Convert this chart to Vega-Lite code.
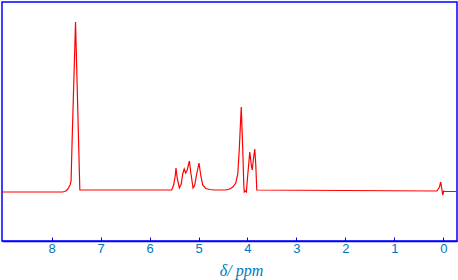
{
  "$schema": "https://vega.github.io/schema/vega-lite/v6.json",
  "autosize": {"type": "none"},
  "width": 455,
  "height": 239,
  "padding": {"left": 2, "top": 2, "right": 1, "bottom": 39},
  "background": "white",
  "config": {
    "view": {"stroke": "#0000ff", "strokeWidth": 1.5}
  },
  "data": {
    "values": [
      {"ppm": 9.014, "intensity": -2},
      {"ppm": 7.777, "intensity": -2},
      {"ppm": 7.736, "intensity": -1.5},
      {"ppm": 7.695, "intensity": -0.5},
      {"ppm": 7.654, "intensity": 2},
      {"ppm": 7.624, "intensity": 5},
      {"ppm": 7.603, "intensity": 9},
      {"ppm": 7.583, "intensity": 47},
      {"ppm": 7.512, "intensity": 168},
      {"ppm": 7.424, "intensity": 0},
      {"ppm": 5.548, "intensity": 0},
      {"ppm": 5.507, "intensity": 5},
      {"ppm": 5.476, "intensity": 14},
      {"ppm": 5.46, "intensity": 22},
      {"ppm": 5.436, "intensity": 12},
      {"ppm": 5.391, "intensity": 2},
      {"ppm": 5.353, "intensity": 6},
      {"ppm": 5.323, "intensity": 16},
      {"ppm": 5.292, "intensity": 21},
      {"ppm": 5.262, "intensity": 17},
      {"ppm": 5.231, "intensity": 20},
      {"ppm": 5.186, "intensity": 29},
      {"ppm": 5.159, "intensity": 18},
      {"ppm": 5.112, "intensity": 2},
      {"ppm": 5.077, "intensity": 5},
      {"ppm": 5.037, "intensity": 16},
      {"ppm": 4.99, "intensity": 27},
      {"ppm": 4.955, "intensity": 15},
      {"ppm": 4.914, "intensity": 5},
      {"ppm": 4.853, "intensity": 1.5},
      {"ppm": 4.771, "intensity": 0.5},
      {"ppm": 4.669, "intensity": 0},
      {"ppm": 4.444, "intensity": 0},
      {"ppm": 4.362, "intensity": 1},
      {"ppm": 4.301, "intensity": 3},
      {"ppm": 4.239, "intensity": 7},
      {"ppm": 4.198, "intensity": 16},
      {"ppm": 4.168, "intensity": 40},
      {"ppm": 4.127, "intensity": 83},
      {"ppm": 4.096, "intensity": 40},
      {"ppm": 4.075, "intensity": 5},
      {"ppm": 4.065, "intensity": -2},
      {"ppm": 4.045, "intensity": -1},
      {"ppm": 4.024, "intensity": -2},
      {"ppm": 3.994, "intensity": 15},
      {"ppm": 3.953, "intensity": 38},
      {"ppm": 3.922, "intensity": 25},
      {"ppm": 3.902, "intensity": 20},
      {"ppm": 3.881, "intensity": 30},
      {"ppm": 3.851, "intensity": 41},
      {"ppm": 3.83, "intensity": 25},
      {"ppm": 3.81, "intensity": 0},
      {"ppm": 2.0, "intensity": -0.5},
      {"ppm": 0.129, "intensity": -1},
      {"ppm": 0.078, "intensity": 3},
      {"ppm": 0.053, "intensity": 8},
      {"ppm": 0.033, "intensity": 2},
      {"ppm": 0.012, "intensity": -5},
      {"ppm": -0.008, "intensity": -1},
      {"ppm": -0.035, "intensity": -1.5},
      {"ppm": -0.28, "intensity": -1.5}
    ]
  },
  "mark": {"type": "line", "color": "#ff0000", "strokeWidth": 1.2, "clip": true},
  "encoding": {
    "x": {
      "field": "ppm",
      "type": "quantitative",
      "scale": {"domain": [9.014, -0.28], "nice": false, "zero": false},
      "axis": {
        "values": [8, 7, 6, 5, 4, 3, 2, 1, 0],
        "format": "d",
        "title": "δ/ ppm",
        "grid": false,
        "domainColor": "#0000ff",
        "domainWidth": 1.5,
        "tickColor": "#0000ff",
        "tickSize": -4,
        "labelPadding": 5,
        "labelColor": "#0077bb",
        "labelFont": "Liberation Sans",
        "labelFontSize": 13,
        "titleColor": "#0077bb",
        "titleFont": "Liberation Serif",
        "titleFontSize": 16,
        "titleFontStyle": "italic",
        "titleFontWeight": "normal",
        "titleX": 239,
        "titlePadding": 7
      }
    },
    "y": {
      "field": "intensity",
      "type": "quantitative",
      "scale": {"domain": [-51, 188], "nice": false, "zero": false},
      "axis": null
    }
  }
}
